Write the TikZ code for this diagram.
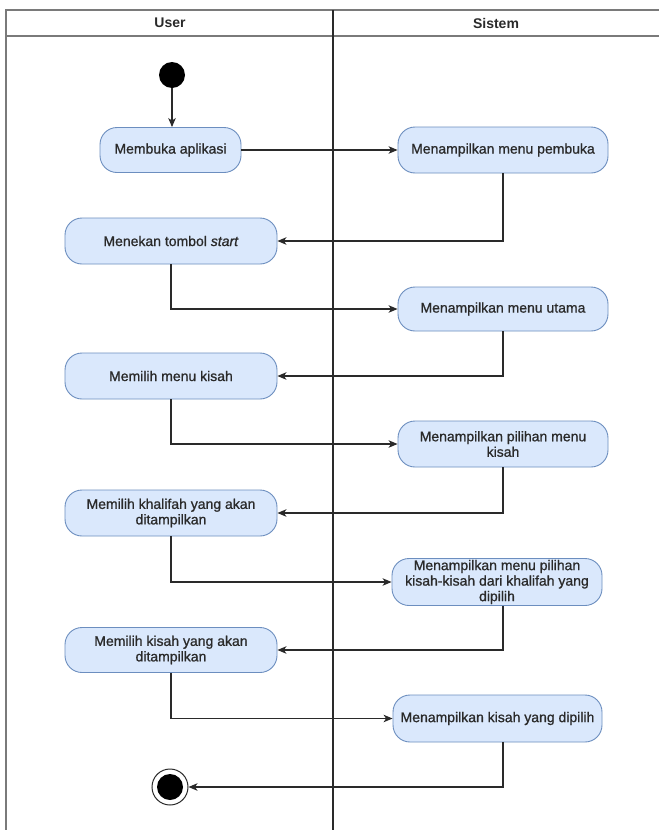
\documentclass[tikz,border=0pt]{standalone}
\usepackage{fontspec}
\setmainfont{Liberation Sans}
\newfontfamily\actfont[FakeBold=0.9]{Liberation Sans}
\usetikzlibrary{arrows.meta}
\definecolor{actfill}{HTML}{DAE8FC}
\definecolor{actdraw}{HTML}{6C8EBF}
\definecolor{lanedraw}{HTML}{7A7A7A}
\definecolor{ink}{HTML}{2A2A2A}
\begin{document}
\begin{tikzpicture}[x=1pt,y=-1pt,
  action/.style={draw=actdraw,fill=actfill,line width=0.9pt,rounded corners=17pt,
    align=center,font=\actfont\fontsize{14}{15.5}\selectfont,text=ink,inner sep=0pt},
  flow/.style={draw=ink,line width=1.1pt,-{Stealth[length=9pt,width=7.5pt,inset=2.5pt]}},
  lane/.style={draw=lanedraw,line width=1.3pt},
  divider/.style={draw=ink,line width=1.1pt},
  head/.style={font=\bfseries\fontsize{14}{16}\selectfont,text=ink},
  startnode/.style={circle,fill=black,minimum size=26pt,inner sep=0pt},
  endring/.style={circle,draw=ink,line width=1pt,minimum size=36pt,inner sep=0pt},
  enddot/.style={circle,fill=black,minimum size=26pt,inner sep=0pt}]
\useasboundingbox (0,0) rectangle (659,830);
\fill[white] (0,0) rectangle (659,830);

% swimlane frame
\draw[lane] (6,830) -- (6,10) -- (659,10);
\draw[lane] (6,36) -- (659,36);
\draw[divider] (333,10) -- (333,830);
\node[head] (huser) at (170,23) {User};
\node[head] (hsis) at (496,23) {Sistem};

% initial and final states
\node[startnode] (start) at (172,75) {};
\node[endring] (stop) at (170,787) {};
\node[enddot] (stopdot) at (170,787) {};

% user lane actions
\node[action,minimum width=141pt,minimum height=45pt] (buka) at (170.5,150) {Membuka aplikasi};
\node[action,minimum width=212pt,minimum height=46pt] (tekan) at (171,241) {Menekan tombol \textit{start}};
\node[action,minimum width=212pt,minimum height=46pt] (pilmenu) at (171,376) {Memilih menu kisah};
\node[action,minimum width=212pt,minimum height=46pt] (pilkhal) at (171,513) {Memilih khalifah yang akan\\ditampilkan};
\node[action,minimum width=212pt,minimum height=45pt] (pilkisah) at (171,650) {Memilih kisah yang akan\\ditampilkan};

% system lane actions
\node[action,minimum width=210pt,minimum height=46pt] (mpembuka) at (503,150) {Menampilkan menu pembuka};
\node[action,minimum width=210pt,minimum height=44pt] (mutama) at (503,309) {Menampilkan menu utama};
\node[action,minimum width=210pt,minimum height=46pt] (mpilihan) at (503,444) {Menampilkan pilihan menu\\kisah};
\node[action,minimum width=210pt,minimum height=47pt] (mkisah) at (497,582) {Menampilkan menu pilihan\\kisah-kisah dari khalifah yang\\dipilih};
\node[action,minimum width=209pt,minimum height=47pt] (mtampil) at (497.5,718.5) {Menampilkan kisah yang dipilih};

% control flow
\draw[flow] (start.south) -- (start.south |- buka.north);
\draw[flow] (buka.east) -- (mpembuka.west);
\draw[flow] (mpembuka.south) |- (tekan.east);
\draw[flow] (tekan.south) |- (mutama.west);
\draw[flow] (mutama.south) |- (pilmenu.east);
\draw[flow] (pilmenu.south) |- (mpilihan.west);
\draw[flow] (mpilihan.south) |- (pilkhal.east);
\draw[flow] (pilkhal.south) |- (mkisah.west);
\draw[flow] ([xshift=6pt]mkisah.south) |- (pilkisah.east);
\draw[flow] (pilkisah.south) |- (mtampil.west);
\draw[flow] ([xshift=5.5pt]mtampil.south) |- (stop.east);
\end{tikzpicture}
\end{document}
